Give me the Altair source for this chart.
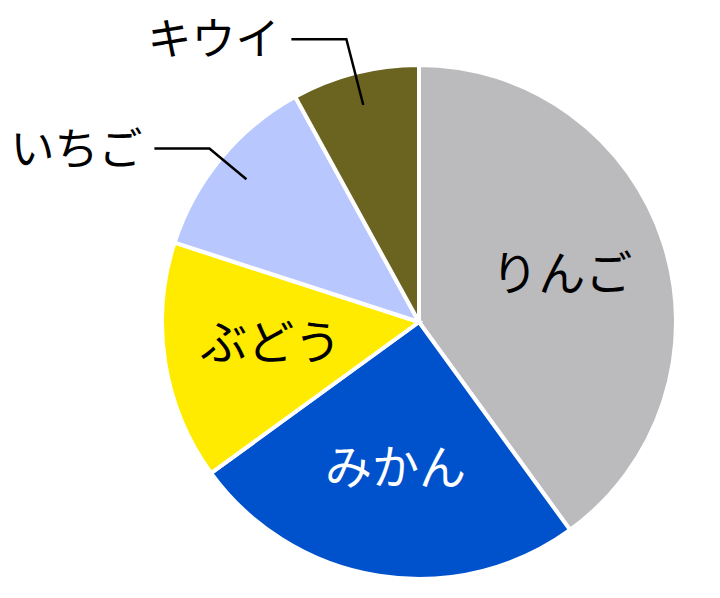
import math
import altair as alt
import pandas as pd

fruits = ["りんご", "みかん", "ぶどう", "いちご", "キウイ"]
values = [40, 25, 15, 12, 8]
colors = ["#BBBBBD", "#0052CC", "#FFEB00", "#B8C8FF", "#6B6320"]
text_colors = ["black", "white", "black", "black", "black"]
inside = [True, True, True, False, False]
elbow_radius = {"いちご": 272, "キウイ": 292}

W, H = 704, 582
CX, CY, R = 411, 314, 257
R_IN_LABEL = 150
R_LEAD0, LEAD_LEN, LEAD_GAP = 224, 55, 12

total = sum(values)
rows, lines, labels = [], [], []
cum = 0.0
for i, (f, v) in enumerate(zip(fruits, values)):
    rows.append({"fruit": f, "value": v, "order": i})
    mid = (cum + v / 2) / total * 2 * math.pi
    cum += v
    s, c = math.sin(mid), math.cos(mid)
    if inside[i]:
        labels.append({"fruit": f, "x": CX + R_IN_LABEL * s, "y": CY - R_IN_LABEL * c,
                       "align": "center", "tc": text_colors[i]})
    else:
        r1 = elbow_radius[f]
        p0 = (CX + R_LEAD0 * s, CY - R_LEAD0 * c)
        p1 = (CX + r1 * s, CY - r1 * c)
        p2 = (p1[0] - LEAD_LEN, p1[1])
        for k, p in enumerate([p0, p1, p2]):
            lines.append({"fruit": f, "k": k, "x": p[0], "y": p[1]})
        labels.append({"fruit": f, "x": p2[0] - LEAD_GAP, "y": p2[1] + 3,
                       "align": "right", "tc": text_colors[i]})

df = pd.DataFrame(rows)
ldf = pd.DataFrame(lines)
tdf = pd.DataFrame(labels)

xs = alt.Scale(domain=[0, W], range=[0, W], nice=False, zero=False)
ys = alt.Scale(domain=[0, H], range=[0, H], nice=False, zero=False)

pie = alt.Chart(df).mark_arc(outerRadius=R, stroke="white", strokeWidth=4).encode(
    theta=alt.Theta("value:Q", stack=True),
    color=alt.Color("fruit:N", scale=alt.Scale(domain=fruits, range=colors), legend=None),
    order=alt.Order("order:Q"),
    x=alt.value(CX),
    y=alt.value(CY),
)

lead = alt.Chart(ldf).mark_line(color="black", strokeWidth=2.5).encode(
    x=alt.X("x:Q", scale=xs, axis=None),
    y=alt.Y("y:Q", scale=ys, axis=None),
    detail="fruit:N",
    order="k:Q",
)

txt_center = alt.Chart(tdf[tdf["align"] == "center"]).mark_text(
    font="Noto Sans CJK JP", fontSize=47, align="center", baseline="middle"
).encode(
    x=alt.X("x:Q", scale=xs, axis=None),
    y=alt.Y("y:Q", scale=ys, axis=None),
    text="fruit:N",
    color=alt.Color("tc:N", scale=None),
)

txt_right = alt.Chart(tdf[tdf["align"] == "right"]).mark_text(
    font="Noto Sans CJK JP", fontSize=44, align="right", baseline="middle"
).encode(
    x=alt.X("x:Q", scale=xs, axis=None),
    y=alt.Y("y:Q", scale=ys, axis=None),
    text="fruit:N",
    color=alt.Color("tc:N", scale=None),
)

chart = alt.layer(pie, lead, txt_center, txt_right).properties(
    width=W, height=H, autosize=alt.AutoSizeParams(type="none"), padding=0
).configure_view(stroke=None)

chart.save("out.html", embed_options={"renderer": "svg", "actions": False})
